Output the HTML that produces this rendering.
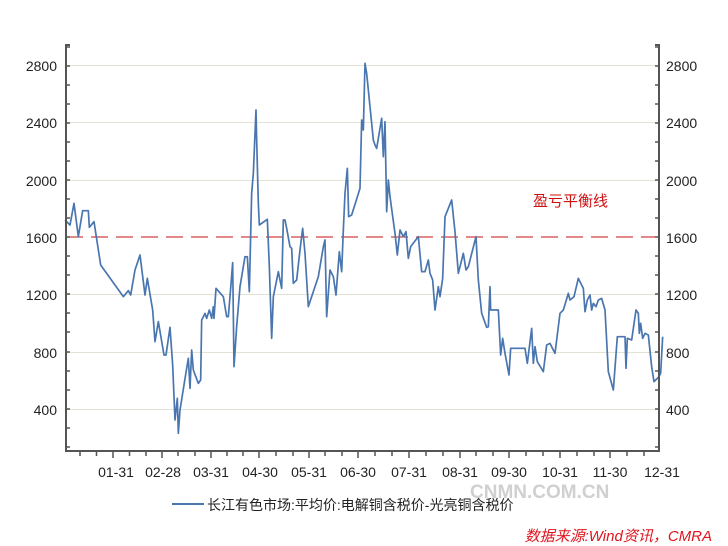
<!DOCTYPE html>
<html><head><meta charset="utf-8"><style>
body{margin:0;background:#fff}
svg{display:block;font-family:"Liberation Sans","Noto Sans CJK SC",sans-serif}
</style></head><body>
<svg width="728" height="546" viewBox="0 0 728 546" xmlns="http://www.w3.org/2000/svg">
<g stroke="#e4e2d4" stroke-width="1">
<line x1="66" x2="659" y1="65.5" y2="65.5"/><line x1="66" x2="659" y1="122.5" y2="122.5"/><line x1="66" x2="659" y1="180.5" y2="180.5"/><line x1="66" x2="659" y1="294.5" y2="294.5"/><line x1="66" x2="659" y1="352.5" y2="352.5"/><line x1="66" x2="659" y1="409.5" y2="409.5"/>
</g>
<line x1="66" x2="659" y1="237" y2="237" stroke="#c41010" stroke-width="1.1" stroke-dasharray="17,8"/>
<g fill="none" stroke="#4a76b0" stroke-width="1.7" stroke-linejoin="round">
<polyline vector-effect="non-scaling-stroke" transform="translate(60,40) scale(0.33333)" points="15,540 30,555 42,490 55,590 68,512 85,512 88,562 102,545 122,675 190,770 205,752 212,765 225,690 240,645 255,765 262,715 278,810 285,905 295,845 312,945 318,945 330,862 338,975 345,1140 352,1075 355,1180 360,1110 380,985 385,955 390,1045 395,930 400,990 415,1030 422,1020 425,840 435,820 440,835 448,810 455,835 460,800 462,835 468,745 490,770 500,830 505,830 512,745 518,668 522,980 530,860 540,740 555,650 562,650 568,755 575,460 580,400 588,210 590,300 595,490 598,555 622,538 628,680 635,895 640,770 655,695 665,745 670,540 675,540 680,565 690,620 695,625 700,730 710,720 720,630 728,565 735,640 745,800 775,710 790,620 795,600 800,830 810,690 820,710 828,765 838,635 845,695 850,570 855,460 862,385 866,530 875,525 900,445 905,240 910,270 915,70 920,100 930,200"/>
<polyline vector-effect="non-scaling-stroke" transform="translate(350,40) scale(0.33333)" points="60,200 70,300 75,315 80,325 95,235 100,350 105,245 110,515 115,420 120,470 135,580 142,645 150,570 160,590 168,575 175,655 182,620 205,590 215,695 225,695 235,660 240,700 248,720 255,810 265,740 270,770 278,715 285,530 305,480 315,575 325,700 340,640 348,690 355,680 378,590 385,720 395,820 410,862 415,860 420,740 422,810 445,810 452,945 458,895 465,940 477,1005 482,925 525,925 532,970 545,865 550,970 555,920 562,965 580,995 590,915 600,910 615,940 630,820 640,810 655,760 660,780 672,770 685,715 695,735 700,745 705,815 712,780 720,765 725,810 730,790 738,800 745,780 755,775 765,810 775,995 790,1050 802,890 825,890 828,985 832,895 845,900 858,810 865,820 868,880 872,850 878,895 885,880 895,885 905,980 912,1025 925,1012 932,1000 938,890"/>
</g>
<g stroke="#555" stroke-width="2" fill="none">
<polyline points="70,45 66,45 66,451 659,451 659,45 655,45"/>
</g>
<g stroke="#555" stroke-width="1.5">
<path d="M66 47h4M66 66h4M66 85h4M66 104h4M66 123h4M66 142h4M66 161h4M66 180h4M66 199h4M66 218h4M66 237h4M66 256h4M66 275h4M66 294h4M66 313h4M66 332h4M66 352h4M66 371h4M66 390h4M66 409h4M66 428h4M66 447h4"/>
<path d="M659 47h-4M659 66h-4M659 85h-4M659 104h-4M659 123h-4M659 142h-4M659 161h-4M659 180h-4M659 199h-4M659 218h-4M659 237h-4M659 256h-4M659 275h-4M659 294h-4M659 313h-4M659 332h-4M659 352h-4M659 371h-4M659 390h-4M659 409h-4M659 428h-4M659 447h-4"/>
<path d="M80 451v5M96.5 451v5M113 451v7M129.5 451v5M146 451v5M162 451v7M178 451v5M195 451v5M211 451v7M227 451v5M243 451v5M259 451v7M276 451v5M293 451v5M309 451v7M325 451v5M342 451v5M358 451v7M375 451v5M392 451v5M409 451v7M426 451v5M443 451v5M460 451v7M476 451v5M493 451v5M509 451v7M526 451v5M543 451v5M560 451v7M577 451v5M594 451v5M610 451v7M627 451v5M644 451v5"/>
</g>
<g font-size="14" fill="#222" text-anchor="end">
<text x="57" y="71">2800</text><text x="57" y="128">2400</text><text x="57" y="186">2000</text><text x="57" y="243">1600</text><text x="57" y="300">1200</text><text x="57" y="358">800</text><text x="57" y="415">400</text>
</g>
<g font-size="14" fill="#222">
<text x="666" y="71">2800</text><text x="666" y="128">2400</text><text x="666" y="186">2000</text><text x="666" y="243">1600</text><text x="666" y="300">1200</text><text x="666" y="358">800</text><text x="666" y="415">400</text>
</g>
<g font-size="14" fill="#222" text-anchor="middle">
<text x="116" y="477">01-31</text><text x="163" y="477">02-28</text><text x="211" y="477">03-31</text><text x="260" y="477">04-30</text><text x="309" y="477">05-31</text><text x="358" y="477">06-30</text><text x="409" y="477">07-31</text><text x="460" y="477">08-31</text><text x="509" y="477">09-30</text><text x="560" y="477">10-31</text><text x="610" y="477">11-30</text><text x="662" y="477">12-31</text>
</g>
<text x="533" y="206" font-size="15" fill="#cc1111">盈亏平衡线</text>
<text x="470" y="498" font-size="19" font-weight="bold" fill="#d0d0d0">CNMN.COM.CN</text>
<line x1="172" x2="204" y1="504" y2="504" stroke="#4a76b0" stroke-width="2"/>
<text x="207" y="510" font-size="14" fill="#222">长江有色市场:平均价:电解铜含税价-光亮铜含税价</text>
<text x="712" y="541" font-size="15" font-style="italic" fill="#e0141e" text-anchor="end">数据来源:Wind资讯，CMRA</text>
</svg>
</body></html>
